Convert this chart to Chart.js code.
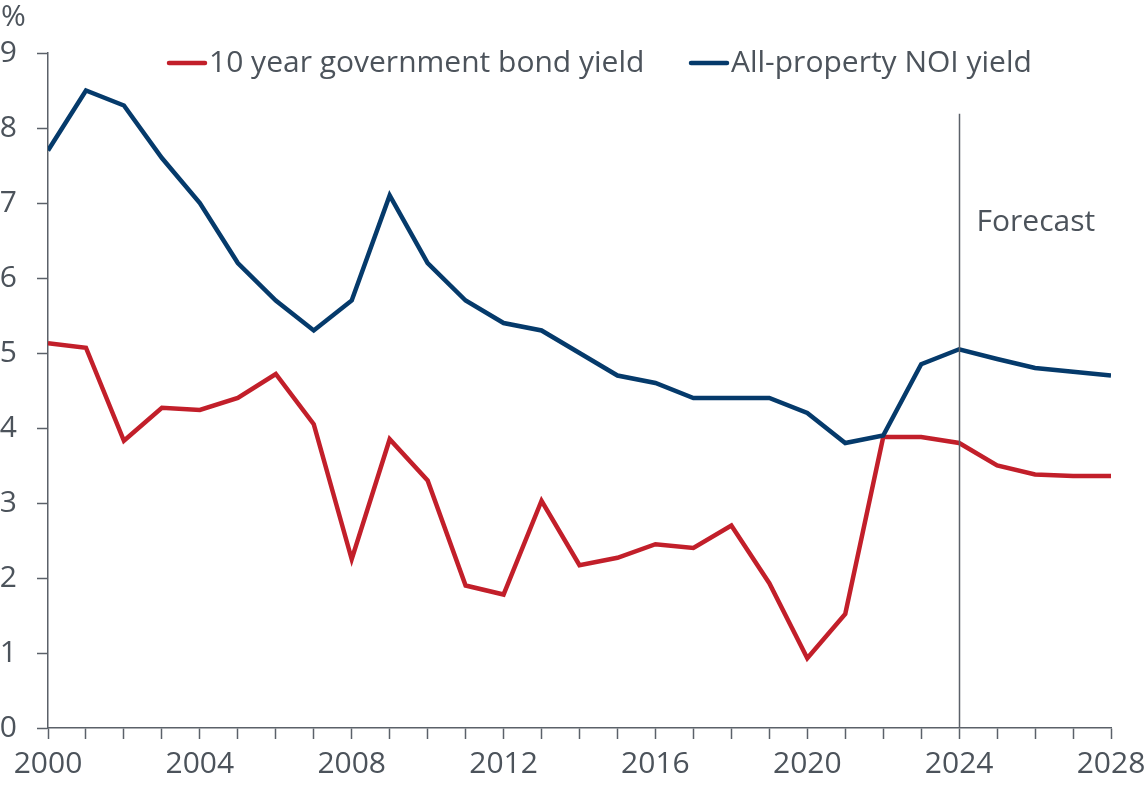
<!DOCTYPE html>
<html>
<head>
<meta charset="utf-8">
<title>Yields</title>
<script src="https://cdn.jsdelivr.net/npm/chart.js@4.4.0/dist/chart.umd.min.js"></script>
<style>
  html, body { margin: 0; padding: 0; background: #fff; }
  .chartContainer { width: 1145px; height: 789px; position: relative; }
</style>
</head>
<body>
<div class="chartContainer"><canvas id="yieldChart"></canvas></div>
<script>
// ------------------------Data------------------------------------------------
const years = [2000, 2001, 2002, 2003, 2004, 2005, 2006, 2007, 2008, 2009,
  2010, 2011, 2012, 2013, 2014, 2015, 2016, 2017, 2018, 2019,
  2020, 2021, 2022, 2023, 2024, 2025, 2026, 2027, 2028]

const bondYield = [5.13, 5.07, 3.83, 4.27, 4.24, 4.40, 4.72, 4.05, 2.25, 3.85,
  3.30, 1.90, 1.78, 3.03, 2.17, 2.27, 2.45, 2.40, 2.70, 1.93,
  0.93, 1.52, 3.88, 3.88, 3.80, 3.50, 3.38, 3.36, 3.36]

const noiYield = [7.70, 8.50, 8.30, 7.60, 7.00, 6.20, 5.70, 5.30, 5.70, 7.10,
  6.20, 5.70, 5.40, 5.30, 5.00, 4.70, 4.60, 4.40, 4.40, 4.40,
  4.20, 3.80, 3.90, 4.85, 5.05, 4.92, 4.80, 4.75, 4.70]

const seriesNames = ['10 year government bond yield', 'All-property NOI yield']
const forecastYear = 2024
const forecastLabel = 'Forecast'
const unitLabel = '%'

// ------------------------Styles----------------------------------------------
const red = '#c21f2a'
const navy = '#053a6b'
const textGray = '#4c535b'
const axisGray = '#5b6169'
const fontFamily = '"Open Sans", "Noto Sans", sans-serif'
const fontSize = 30

const toPoints = (values) => values.map((v, i) => ({ x: years[i], y: v }))

// ------------------------Overlay: legend, forecast marker, unit--------------
const overlayPlugin = {
  id: 'overlay',
  afterDatasetsDraw(chart) {
    const { ctx, chartArea, scales } = chart
    const x = scales.x
    const y = scales.y

    ctx.save()
    ctx.font = `${fontSize}px ${fontFamily}`
    ctx.fillStyle = textGray
    ctx.textBaseline = 'middle'

    // forecast divider
    const fx = Math.round(x.getPixelForValue(forecastYear)) + 0.5
    ctx.strokeStyle = axisGray
    ctx.lineWidth = 1.5
    ctx.beginPath()
    ctx.moveTo(fx, y.getPixelForValue(8.19))
    ctx.lineTo(fx, chartArea.bottom)
    ctx.stroke()

    ctx.textAlign = 'left'
    ctx.fillText(forecastLabel, fx + 17, y.getPixelForValue(6.74))

    // unit above the y axis
    ctx.fillText(unitLabel, 1, 17)

    // legend
    const legendY = chartArea.top + 10
    const items = [
      { name: seriesNames[0], color: red, start: chartArea.left + 121 },
      { name: seriesNames[1], color: navy, start: chartArea.left + 643 }
    ]
    items.forEach(item => {
      ctx.strokeStyle = item.color
      ctx.lineWidth = 4.5
      ctx.lineCap = 'round'
      ctx.beginPath()
      ctx.moveTo(item.start, legendY)
      ctx.lineTo(item.start + 36, legendY)
      ctx.stroke()
      ctx.fillText(item.name, item.start + 40, legendY)
    })

    ctx.restore()
  }
}

// ------------------------Chart-----------------------------------------------
const chartConfig = {
  type: 'line',
  data: {
    datasets: [
      {
        label: seriesNames[1],
        data: toPoints(noiYield),
        borderColor: navy,
        borderWidth: 4.5,
        pointRadius: 0,
        tension: 0
      },
      {
        label: seriesNames[0],
        data: toPoints(bondYield),
        borderColor: red,
        borderWidth: 4.5,
        pointRadius: 0,
        tension: 0
      }
    ]
  },
  options: {
    responsive: true,
    maintainAspectRatio: false,
    animation: false,
    layout: { padding: { top: 53, right: 34, left: 0, bottom: 0 } },
    plugins: {
      legend: { display: false },
      tooltip: { enabled: false }
    },
    scales: {
      x: {
        type: 'linear',
        min: 2000,
        max: 2028,
        afterFit: (scale) => {
          scale.height = 61
          scale.paddingLeft = 0
          scale.paddingRight = 0
        },
        grid: {
          drawOnChartArea: false,
          drawTicks: true,
          tickLength: 11,
          tickWidth: 1.5,
          color: axisGray
        },
        border: { color: axisGray, width: 1.5 },
        ticks: {
          stepSize: 1,
          autoSkip: false,
          maxRotation: 0,
          padding: 7,
          color: textGray,
          font: { family: fontFamily, size: fontSize },
          callback: (v) => (v % 4 === 0 ? String(v) : '')
        }
      },
      y: {
        min: 0,
        max: 9,
        afterFit: (scale) => { scale.width = 48 },
        grid: {
          drawOnChartArea: false,
          drawTicks: true,
          tickLength: 11,
          tickWidth: 1.5,
          color: axisGray
        },
        border: { color: axisGray, width: 1.5 },
        ticks: {
          stepSize: 1,
          padding: 20,
          color: textGray,
          font: { family: fontFamily, size: fontSize }
        }
      }
    }
  },
  plugins: [overlayPlugin]
}

const yieldChart = new Chart(document.getElementById('yieldChart'), chartConfig)
</script>
</body>
</html>
